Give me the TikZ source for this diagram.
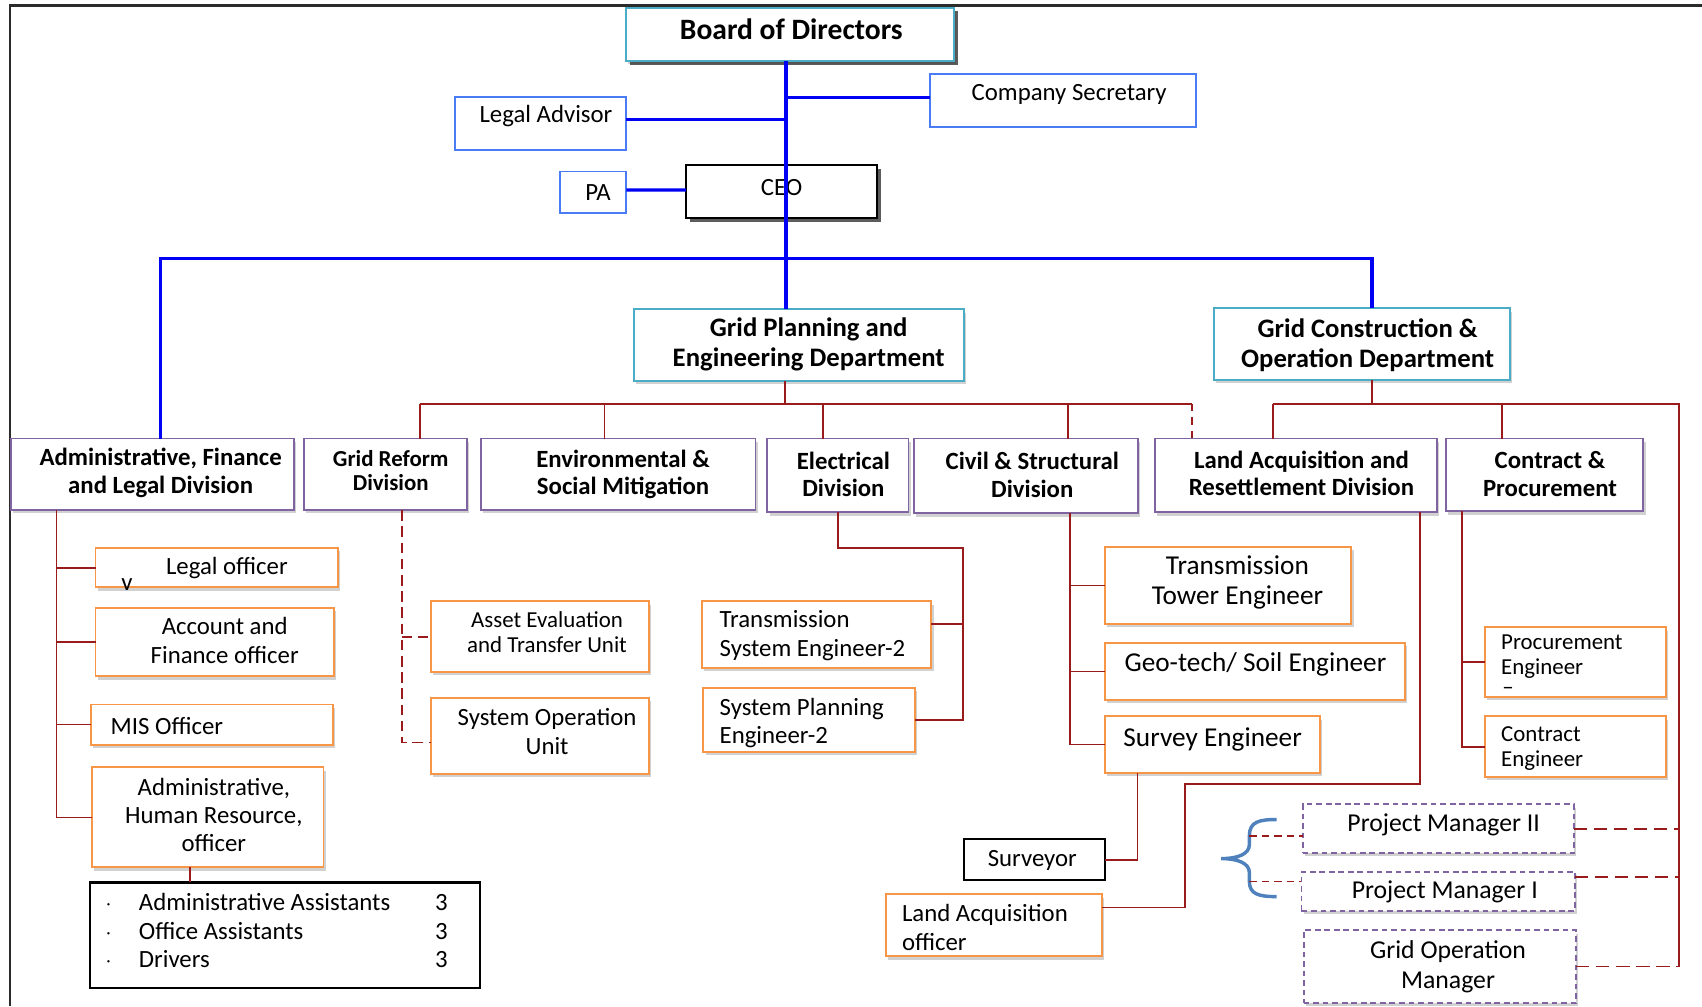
\documentclass[tikz,border=0pt]{standalone}
\usepackage{fontspec}
\setmainfont{Carlito}
\usetikzlibrary{shadows,calc}
\definecolor{cteal}{HTML}{4BACC6}
\definecolor{cblue}{HTML}{4A7CF5}
\definecolor{cpurple}{HTML}{8064A2}
\definecolor{corange}{HTML}{F79646}
\definecolor{cred}{HTML}{991B1B}
\definecolor{lblue}{HTML}{0000F5}
\definecolor{brblue}{HTML}{4F81BD}
\definecolor{cframe}{HTML}{2B2B2B}
\begin{document}
\begin{tikzpicture}[x=0.02cm,y=-0.02cm,
  wh/.style 2 args={minimum width=#1*0.02cm,minimum height=#2*0.02cm},
  box/.style={draw,fill=white,line width=1pt,inner sep=0pt,outer sep=0pt},
  lightsh/.style={drop shadow={shadow xshift=0.04cm,shadow yshift=-0.06cm,fill=black,opacity=0.18}},
  darksh/.style={drop shadow={shadow xshift=0.07cm,shadow yshift=-0.07cm,fill=black!75,opacity=0.85}},
  tealbox/.style={box,draw=cteal,lightsh},
  bluebox/.style={box,draw=cblue},
  purplebox/.style={box,draw=cpurple,lightsh},
  orangebox/.style={box,draw=corange,lightsh},
  blackbox/.style={box,draw=black,line width=1.2pt},
  dashbox/.style={box,draw=cpurple,dash pattern=on 3pt off 2pt,lightsh},
  t/.style={inner sep=0pt,outer sep=0pt,align=center,text=black},
  tl/.style={t,align=left,anchor=west},
  fBoard/.style={font=\bfseries\fontsize{15.5}{18}\selectfont},
  fDept/.style={font=\bfseries\fontsize{14}{15.9}\selectfont},
  fDiv/.style={font=\bfseries\fontsize{13}{14.5}\selectfont},
  fRef/.style={font=\bfseries\fontsize{12}{13.1}\selectfont},
  fTop/.style={font=\fontsize{13}{15}\selectfont},
  fOr/.style={font=\fontsize{13}{14.8}\selectfont},
  fSm/.style={font=\fontsize{12}{13.1}\selectfont},
  fCiv/.style={font=\fontsize{14.3}{15.4}\selectfont},
  fPM/.style={font=\fontsize{13.5}{15.4}\selectfont},
  bl/.style={draw=lblue,line width=1.7pt},
  rl/.style={draw=cred,line width=0.9pt},
  rdash/.style={rl,line width=1pt,dash pattern=on 5.5pt off 3pt},
  rdl/.style={rl,dash pattern=on 7pt off 3.5pt},
  rdl2/.style={rl,dash pattern=on 4pt off 2.5pt},
]
\useasboundingbox (0,0) rectangle (1568,927);
% frame
\draw[cframe,line width=1.2pt] (9,927) -- (9,5) -- (1568,5);

% ---- boxes ----
\node[tealbox,wh={302}{49},darksh] (board) at (728,31.5) {};
\node[bluebox,wh={158}{49}] (legal) at (498,113.5) {};
\node[bluebox,wh={245}{49}] (cosec) at (979.5,92.5) {};
\node[bluebox,wh={61}{38}] (pa) at (546.5,177) {};
\node[box,draw=black,wh={176}{49},darksh] (ceo) at (720,176.5) {};
\node[tealbox,wh={304}{66}] (gridplan) at (736,318) {};
\node[tealbox,wh={273}{66}] (gridcons) at (1254.5,317) {};

\node[purplebox,wh={261}{66}] (admin) at (140.5,437) {};
\node[purplebox,wh={150}{66}] (reform) at (355,437) {};
\node[purplebox,wh={253}{66}] (env) at (569.5,437) {};
\node[purplebox,wh={130}{68}] (elec) at (772,438) {};
\node[purplebox,wh={206}{69}] (civil) at (945,438.5) {};
\node[purplebox,wh={260}{68}] (landdiv) at (1194,438) {};
\node[purplebox,wh={182}{67}] (contract) at (1423,437.5) {};

\node[orangebox,wh={223}{36}] (legaloff) at (199.5,523) {};
\node[orangebox,wh={220}{63}] (account) at (198,591.5) {};
\node[orangebox,wh={223}{37}] (mis) at (195.5,667.5) {};
\node[orangebox,wh={213}{92}] (hr) at (191.5,753) {};
\node[blackbox,wh={359}{97}] (list) at (262.5,861.5) {};
\node[orangebox,wh={201}{65}] (asset) at (497.5,586.5) {};
\node[orangebox,wh={201}{70}] (sysop) at (497.5,678) {};
\node[orangebox,wh={211}{61}] (transsys) at (752.5,584.5) {};
\node[orangebox,wh={195}{59}] (sysplan) at (745.5,663.5) {};
\node[orangebox,wh={227}{71}] (tower) at (1131.5,539.5) {};
\node[orangebox,wh={276}{53}] (geo) at (1156,618.5) {};
\node[orangebox,wh={198}{52}] (survey) at (1117,686) {};
\node[blackbox,wh={130}{38}] (surveyor) at (953,792) {};
\node[orangebox,wh={199}{57}] (landoff) at (915.5,852.5) {};
\node[orangebox,wh={167}{64}] (proceng) at (1451.5,610) {};
\node[orangebox,wh={167}{56}] (conteng) at (1451.5,688) {};
\node[dashbox,wh={250}{45}] (pm2) at (1325,763.5) {};
\node[dashbox,wh={252}{36}] (pm1) at (1325,821) {};
\node[dashbox,wh={251}{67}] (gom) at (1326.5,890.5) {};

% ---- texts ----
\begin{scope}[yshift=-0.04cm]
\node[t,fBoard] (boardt) at (729,25) {Board of Directors};
\node[t,fTop] (legalt) at (503,105) {Legal Advisor};
\node[t,fTop] (cosect) at (985,85) {Company Secretary};
\node[t,fTop] (pat) at (551,175) {PA};
\node[t,fTop] (ceot) at (720,171) {CEO};
\node[t,fDept] (gridplant) at (745,315) {Grid Planning and\\Engineering Department};
\node[t,fDept] (gridconst) at (1260,316) {Grid Construction \&\\Operation Department};

\node[t,fDiv] (admint) at (148,433.5) {Administrative, Finance\\and Legal Division};
\node[t,fRef] (reformt) at (360,431.5) {Grid Reform\\Division};
\node[t,fDiv] (envt) at (574,435) {Environmental \&\\Social Mitigation};
\node[t,fDiv] (elect) at (777,435) {Electrical\\Division};
\node[t,fDiv] (civilt) at (951,435.5) {Civil \& Structural\\Division};
\node[t,fDiv] (landdivt) at (1199,434) {Land Acquisition and\\Resettlement Division};
\node[t,fDiv] (contractt) at (1428,435) {Contract \&\\Procurement};

\node[t,fOr] (legalofft) at (209,521) {Legal officer};
\node[t,fOr] (legv) at (117,537) {v};
\node[t,fOr] (accountt) at (207,588) {Account and\\Finance officer};
\node[tl,fOr] (mist) at (102,667) {MIS Officer};
\node[t,fOr] (hrt) at (197,749) {Administrative,\\Human Resource,\\officer};
\node[tl,fOr] (listt) at (97,858) {\begin{tabular}{@{}p{0.62cm}@{}p{5.46cm}@{}l@{}}
$\cdot$&Administrative Assistants&3\\
$\cdot$&Office Assistants&3\\
$\cdot$&Drivers&3\end{tabular}};
\node[t,fSm] (assett) at (504,580.5) {Asset Evaluation\\and Transfer Unit};
\node[t,fOr] (sysopt) at (504,672) {System Operation\\Unit};
\node[tl,fOr] (transsyst) at (663,583.5) {Transmission\\System Engineer-2};
\node[tl,fOr] (sysplant) at (663,664) {System Planning\\Engineer-2};
\node[t,fCiv] (towert) at (1140,534.5) {Transmission\\Tower Engineer};
\node[tl,fCiv] (geot) at (1036,610) {Geo-tech/ Soil Engineer};
\node[tl,fCiv] (surveyt) at (1035,679) {Survey Engineer};
\node[t,fOr] (surveyort) at (951,791) {Surveyor};
\node[tl,fOr] (landofft) at (831,852.5) {Land Acquisition\\officer};
\node[tl,fSm] (procengt) at (1383,602.5) {Procurement\\Engineer};
\node[tl,fSm] (procdash) at (1384,635) {–};
\node[tl,fSm] (contengt) at (1383,687.5) {Contract\\Engineer};
\node[t,fPM] (pm2t) at (1330,758) {Project Manager II};
\node[t,fPM] (pm1t) at (1331,820) {Project Manager I};
\node[t,fPM] (gomt) at (1334,888.5) {Grid Operation\\Manager};
\end{scope}

% ---- blue connectors ----
\coordinate (tr) at (724,0);
\coordinate (hb) at (724,238);
\coordinate (la) at ([yshift=0.07cm]legal.east);
\coordinate (cs) at ([yshift=0.05cm]cosec.west);
\draw[bl] (la) -- (tr |- la);
\draw[bl] (tr |- cs) -- (cs);
\draw[bl] ([yshift=0.04cm]pa.east) -- ([yshift=0.03cm]ceo.west);
\draw[bl] ([xshift=0.15cm]admin.north) |- (hb) -| ([xshift=0.19cm]gridcons.north);
\draw[bl] (tr |- board.south) -- (tr |- gridplan.north);

% ---- department buses ----
\coordinate (pb) at (723,372);
\coordinate (c1) at (387,372);
\coordinate (c2) at (557,372);
\coordinate (c3) at (758,372);
\coordinate (c4) at (984,372);
\coordinate (c5) at (1098,372);
\draw[rl] (gridplan.south -| pb) -- (pb);
\draw[rl] (c1) -- (c5);
\draw[rl] (c1) -- (c1 |- reform.north);
\draw[rl] (c2) -- (c2 |- env.north);
\draw[rl] (c3) -- (c3 |- elec.north);
\draw[rl] (c4) -- (c4 |- civil.north);
\draw[rl,dash pattern=on 4pt off 3pt] (c5) -- (c5 |- landdiv.north);

\coordinate (d0) at (1264,372);
\coordinate (d1) at (1173,372);
\coordinate (d2) at (1384,372);
\coordinate (d3) at (1547,372);
\draw[rl] (gridcons.south -| d0) -- (d0);
\draw[rl] (d1) -- (d3) -- (d3 |- gom.east);
\draw[rl] (d1) -- (d1 |- landdiv.north);
\draw[rl] (d2) -- (d2 |- contract.north);
\coordinate (p1r) at ([yshift=-0.1cm]pm1.north east);
\draw[rdl] (pm2.east) -- (pm2.east -| d3);
\draw[rdl] (p1r) -- (p1r -| d3);
\draw[rdl] (gom.east) -- (gom.east -| d3);

% ---- admin tree ----
\coordinate (at) at (52,0);
\draw[rl] (admin.south -| at) |- (hr.west);
\draw[rl] (at |- legaloff.west) -- (legaloff.west);
\draw[rl] (at |- account.west) -- (account.west);
\draw[rl] (at |- mis.west) -- (mis.west);
\coordinate (hl) at (175,0);
\draw[rl] (hr.south -| hl) -- (list.north -| hl);

% ---- grid reform tree ----
\coordinate (rt) at (370,0);
\coordinate (so) at ([yshift=-0.12cm]sysop.west);
\draw[rdash] (reform.south -| rt) |- (so);
\draw[rdash] (rt |- asset.west) -- (asset.west);

% ---- electrical tree ----
\coordinate (et) at (887,505);
\coordinate (ts) at ([yshift=0.19cm]transsys.east);
\draw[rl] (elec.south) |- (et) |- (sysplan.east);
\draw[rl] (ts) -- (ts -| et);

% ---- civil tree ----
\coordinate (ct) at (986,0);
\draw[rl] (civil.south -| ct) |- (survey.west);
\draw[rl] (ct |- tower.west) -- (tower.west);
\draw[rl] (ct |- geo.west) -- (geo.west);
\coordinate (st) at (1048,0);
\draw[rl] (survey.south -| st) |- (surveyor.east);

% ---- land tree ----
\coordinate (l1) at (1308,722);
\coordinate (l2) at (1092,836);
\draw[rl] (landdiv.south -| l1) -- (l1) -| (l2) -- (l2 -| landoff.east);

% ---- contract tree ----
\coordinate (kt) at (1347,0);
\draw[rl] (contract.south -| kt) |- (conteng.west);
\draw[rl] (kt |- proceng.west) -- (proceng.west);

% ---- brace ----
\draw[brblue,line width=1.8pt] (1176,755) .. controls (1160,755) and (1151,757) .. (1151,770) -- (1151,778) .. controls (1151,787) and (1140,791) .. (1125,791) .. controls (1140,791) and (1151,795) .. (1151,804) -- (1151,812) .. controls (1151,824) and (1160,826) .. (1176,826);
\coordinate (b1) at (1151,770);
\coordinate (b2) at (1151,812);
\draw[rdl2] (b1) -- (b1 -| pm2.west);
\draw[rdl2] (b2) -- (b2 -| pm1.west);
\end{tikzpicture}
\end{document}
